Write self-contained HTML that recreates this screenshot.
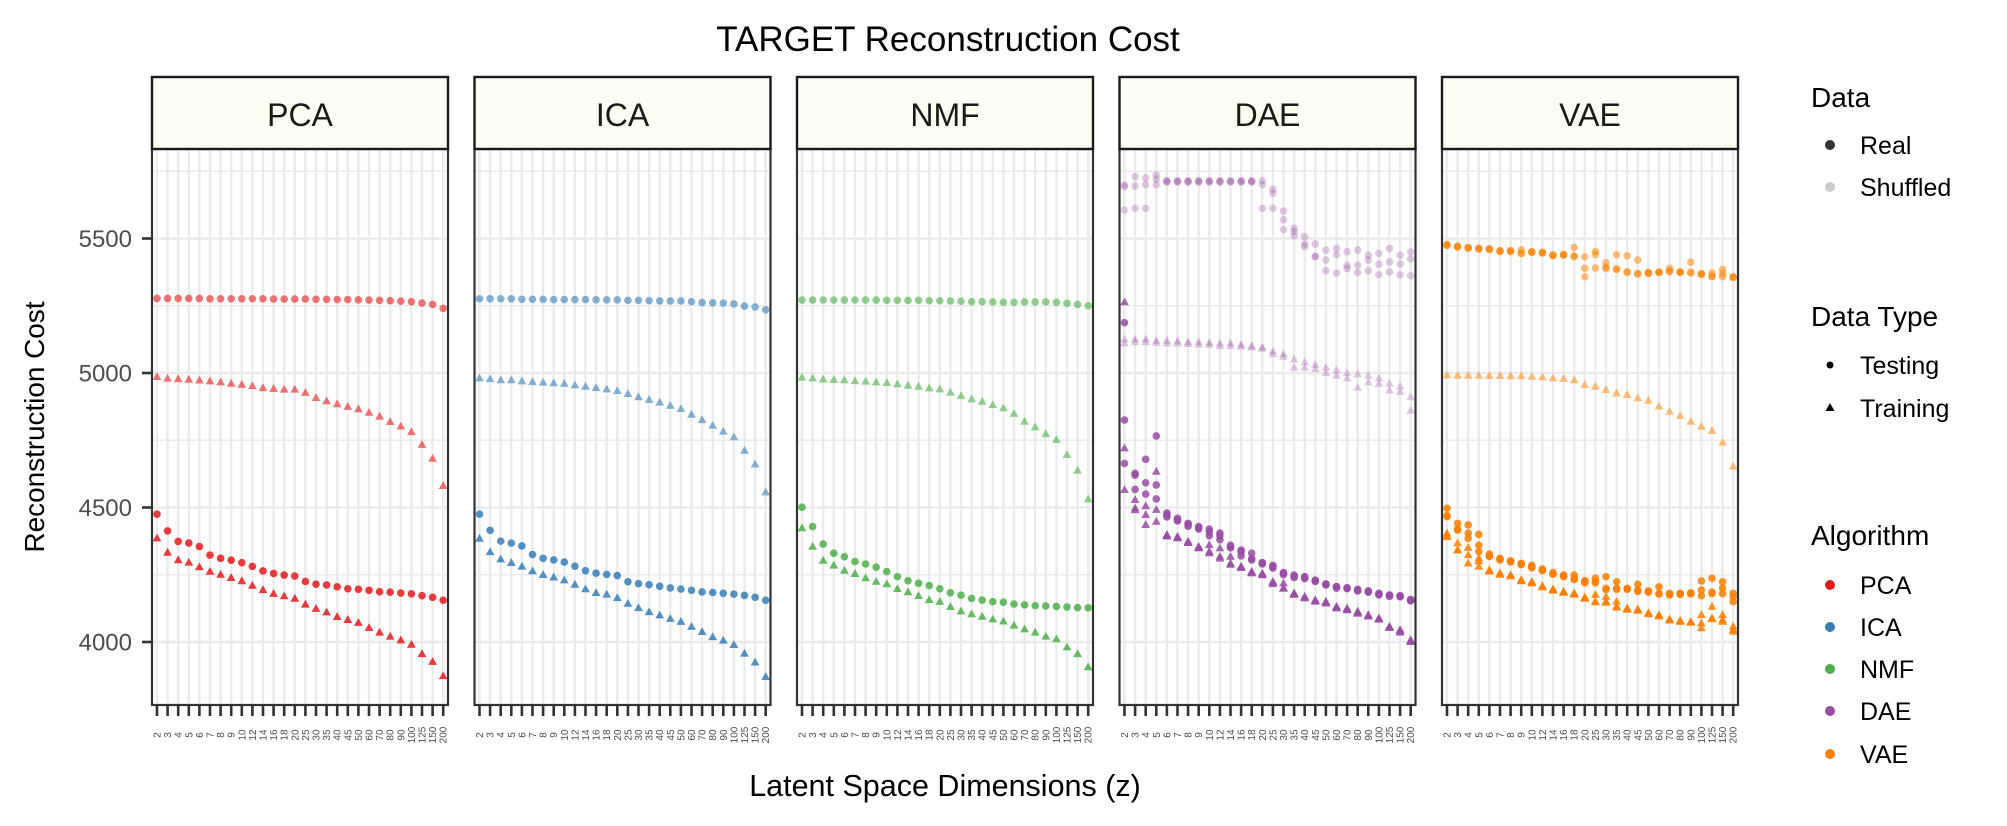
<!DOCTYPE html>
<html><head><meta charset="utf-8"><style>
html,body{margin:0;padding:0;background:#fff;}
svg{display:block;font-family:"Liberation Sans",Arial,sans-serif;}
</style></head><body>
<svg id="chart" width="2007" height="826" viewBox="0 0 2007 826" xmlns="http://www.w3.org/2000/svg">
<rect width="2007" height="826" fill="#fff"/>
<text x="948" y="51" font-size="35" text-anchor="middle" fill="#000">TARGET Reconstruction Cost</text>
<text transform="translate(44,427) rotate(-90)" font-size="28" text-anchor="middle" textLength="251" fill="#000">Reconstruction Cost</text>
<text x="945" y="796" font-size="30.5" text-anchor="middle" fill="#000">Latent Space Dimensions (z)</text>
<g id="panels"></g>
<g id="legend">
  <text x="1811" y="107" font-size="28" fill="#000">Data</text>
  <circle cx="1830" cy="145" r="5" fill="#333"/>
  <text x="1860" y="154" font-size="25" fill="#000">Real</text>
  <circle cx="1830" cy="187" r="5" fill="#ccc"/>
  <text x="1860" y="196" font-size="25" fill="#000">Shuffled</text>
  <text x="1811" y="326" font-size="28" fill="#000">Data Type</text>
  <circle cx="1830" cy="365" r="3.5" fill="#000"/>
  <text x="1860" y="374" font-size="25" fill="#000">Testing</text>
  <polygon points="1830,403 1834.5,411 1825.5,411" fill="#000"/>
  <text x="1860" y="417" font-size="25" fill="#000">Training</text>
  <text x="1811" y="545" font-size="28" fill="#000">Algorithm</text>
  <circle cx="1830" cy="585" r="5" fill="#E41A1C"/>
  <text x="1860" y="594" font-size="25" fill="#000">PCA</text>
  <circle cx="1830" cy="627" r="5" fill="#377EB8"/>
  <text x="1860" y="636" font-size="25" fill="#000">ICA</text>
  <circle cx="1830" cy="669" r="5" fill="#4DAF4A"/>
  <text x="1860" y="678" font-size="25" fill="#000">NMF</text>
  <circle cx="1830" cy="711" r="5" fill="#984EA3"/>
  <text x="1860" y="720" font-size="25" fill="#000">DAE</text>
  <circle cx="1830" cy="754" r="5" fill="#FF7F00"/>
  <text x="1860" y="763" font-size="25" fill="#000">VAE</text>
</g>
</svg>
<script>
const categories = ["2","3","4","5","6","7","8","9","10","12","14","16","18","20","25","30","35","40","45","50","60","70","80","90","100","125","150","200"];
const panelNames = ["PCA","ICA","NMF","DAE","VAE"];
const panelColors = ["#E41A1C","#377EB8","#4DAF4A","#984EA3","#FF7F00"];
const yTicks = [4000,4500,5000,5500];
const yMinor = [3750,4250,4750,5250,5750];

const pcaTestReal = [4475,4413,4374,4368,4355,4323,4311,4304,4295,4281,4264,4255,4249,4245,4225,4215,4212,4205,4198,4196,4192,4187,4185,4182,4179,4172,4166,4155];
const pcaTrainReal = [4385,4332,4304,4295,4278,4261,4250,4238,4226,4209,4193,4179,4170,4161,4139,4123,4110,4093,4082,4071,4052,4035,4020,4006,3990,3955,3926,3873];
const pcaTestShuf = [5277,5277,5277,5277,5277,5276,5276,5276,5276,5276,5276,5275,5275,5275,5275,5274,5274,5273,5273,5272,5271,5270,5269,5267,5265,5260,5255,5240];
const pcaTrainShuf = [4985,4979,4977,4975,4972,4969,4965,4960,4956,4951,4944,4941,4938,4938,4926,4907,4895,4884,4874,4865,4852,4838,4818,4801,4780,4733,4681,4580];

const icaTestReal = [4475,4415,4375,4368,4357,4325,4311,4305,4297,4282,4265,4256,4251,4247,4224,4217,4213,4207,4201,4197,4192,4186,4184,4181,4178,4173,4166,4155];
const icaTrainReal = [4384,4334,4307,4294,4280,4263,4249,4240,4229,4213,4196,4182,4176,4163,4142,4126,4111,4099,4086,4075,4056,4037,4018,4005,3989,3957,3924,3870];
const icaTestShuf = [5276,5276,5276,5276,5274,5274,5274,5273,5273,5273,5273,5272,5272,5272,5270,5270,5269,5268,5268,5268,5265,5262,5261,5260,5257,5249,5245,5235];
const icaTrainShuf = [4980,4977,4973,4973,4969,4966,4964,4962,4960,4954,4949,4944,4939,4933,4922,4910,4900,4890,4878,4866,4845,4825,4804,4782,4761,4711,4660,4556];

const nmfTestReal = [4501,4429,4364,4330,4317,4299,4290,4278,4262,4243,4228,4218,4210,4198,4183,4174,4162,4156,4150,4148,4141,4138,4135,4134,4132,4130,4128,4127];
const nmfTrainReal = [4423,4354,4302,4284,4265,4253,4237,4224,4215,4197,4185,4171,4156,4149,4130,4114,4103,4094,4084,4076,4061,4047,4035,4020,4010,3980,3955,3906];
const nmfTestShuf = [5271,5271,5271,5271,5271,5271,5271,5271,5270,5270,5270,5270,5269,5269,5268,5267,5265,5265,5264,5263,5263,5264,5264,5264,5263,5259,5255,5250];
const nmfTrainShuf = [4983,4980,4976,4974,4973,4970,4968,4965,4963,4958,4953,4949,4943,4939,4927,4915,4902,4893,4881,4869,4848,4819,4798,4773,4751,4695,4637,4530];

const daeTestReal1 = [4825,4627,4679,4766,4472,4460,4441,4429,4420,4405,4354,4342,4330,4295,4280,4255,4249,4243,4230,4216,4206,4200,4196,4187,4181,4175,4172,4156];
const daeTestReal2 = [4664,4620,4592,4584,4480,4455,4438,4425,4410,4380,4360,4335,4305,4290,4285,4250,4245,4240,4228,4212,4200,4202,4190,4190,4175,4172,4170,4153];
const daeTestReal3 = [5187,4567,4550,4532,4465,4450,4430,4420,4395,4395,4350,4320,4310,4295,4275,4258,4240,4236,4225,4215,4205,4198,4192,4185,4178,4170,4168,4158];
const daeTrainReal1 = [5263,4528,4505,4633,4398,4391,4373,4354,4360,4348,4317,4280,4261,4255,4224,4218,4181,4168,4156,4150,4131,4125,4113,4100,4088,4057,4045,4007];
const daeTrainReal2 = [4720,4497,4472,4491,4395,4388,4370,4350,4336,4317,4292,4278,4258,4250,4220,4200,4178,4165,4152,4146,4128,4120,4108,4097,4085,4055,4040,4003];
const daeTrainReal3 = [4565,4490,4435,4447,4392,4385,4368,4348,4330,4310,4287,4275,4255,4248,4215,4198,4175,4162,4150,4143,4125,4118,4105,4095,4083,4052,4035,4000];
const daeTestShuf1 = [5699,5730,5725,5736,5715,5715,5715,5715,5715,5715,5715,5715,5715,5715,5683,5602,5538,5507,5480,5457,5463,5451,5457,5438,5445,5463,5438,5450];
const daeTestShuf2 = [5692,5695,5700,5720,5712,5712,5712,5712,5712,5712,5712,5712,5712,5700,5668,5570,5526,5480,5433,5420,5440,5400,5401,5420,5404,5413,5406,5424];
const daeTestShuf3 = [5606,5612,5612,5700,5710,5710,5710,5710,5710,5710,5710,5710,5710,5612,5612,5533,5510,5470,5433,5380,5371,5388,5374,5380,5365,5375,5365,5362];
const daeTrainShuf1 = [5125,5125,5125,5120,5120,5118,5115,5115,5112,5110,5110,5105,5100,5095,5080,5070,5050,5040,5030,5020,5010,5000,4995,4990,4980,4960,4950,4910];
const daeTrainShuf2 = [5110,5115,5115,5112,5110,5110,5108,5105,5105,5100,5100,5098,5095,5090,5070,5060,5020,5020,5015,5000,4990,4980,4945,4965,4960,4935,4930,4860];

const vaeTestReal1 = [4497,4441,4435,4400,4327,4311,4302,4292,4285,4271,4258,4249,4249,4228,4237,4243,4224,4199,4215,4190,4205,4181,4181,4183,4227,4237,4224,4181];
const vaeTestReal2 = [4466,4416,4405,4360,4320,4308,4300,4290,4280,4268,4255,4245,4236,4225,4225,4199,4199,4198,4193,4187,4180,4178,4180,4181,4193,4185,4200,4168];
const vaeTestReal3 = [4470,4420,4385,4336,4318,4305,4298,4288,4276,4265,4252,4243,4232,4220,4220,4195,4196,4196,4188,4185,4178,4175,4177,4179,4172,4180,4180,4150];
const vaeTrainReal1 = [4404,4367,4350,4311,4267,4255,4249,4230,4224,4208,4196,4187,4181,4166,4175,4168,4150,4125,4121,4107,4100,4084,4079,4075,4100,4131,4100,4057];
const vaeTrainReal2 = [4395,4342,4323,4300,4264,4252,4246,4228,4220,4205,4193,4185,4178,4163,4150,4150,4131,4122,4118,4105,4097,4082,4077,4073,4069,4088,4081,4045];
const vaeTrainReal3 = [4390,4340,4292,4280,4262,4250,4244,4226,4218,4203,4191,4183,4176,4161,4148,4146,4128,4120,4116,4103,4095,4080,4075,4072,4051,4085,4075,4038];
const vaeTestShuf1 = [5478,5472,5467,5464,5462,5455,5455,5458,5451,5449,5439,5441,5467,5432,5452,5410,5440,5435,5420,5375,5375,5376,5376,5412,5370,5372,5385,5358];
const vaeTestShuf2 = [5475,5470,5465,5462,5460,5453,5453,5446,5449,5447,5437,5439,5435,5389,5440,5394,5387,5376,5370,5369,5375,5389,5375,5375,5368,5358,5370,5356];
const vaeTestShuf3 = [5474,5468,5464,5461,5459,5452,5452,5444,5448,5446,5436,5438,5433,5358,5390,5388,5385,5374,5368,5371,5374,5380,5374,5372,5366,5360,5358,5355];
const vaeTrainShuf = [4991,4990,4990,4990,4989,4989,4988,4988,4986,4984,4980,4978,4973,4955,4949,4937,4924,4918,4906,4897,4875,4856,4840,4819,4800,4785,4741,4652];

const panelSeries = [
  {shufOp:0.6, shufTest:[pcaTestShuf], shufTrain:[pcaTrainShuf], realTest:[pcaTestReal], realTrain:[pcaTrainReal]},
  {shufOp:0.6, shufTest:[icaTestShuf], shufTrain:[icaTrainShuf], realTest:[icaTestReal], realTrain:[icaTrainReal]},
  {shufOp:0.6, shufTest:[nmfTestShuf], shufTrain:[nmfTrainShuf], realTest:[nmfTestReal], realTrain:[nmfTrainReal]},
  {shufOp:0.3, shufTest:[daeTestShuf1,daeTestShuf2,daeTestShuf3], shufTrain:[daeTrainShuf1,daeTrainShuf2], realTest:[daeTestReal1,daeTestReal2,daeTestReal3], realTrain:[daeTrainReal1,daeTrainReal2,daeTrainReal3]},
  {shufOp:0.5, shufTest:[vaeTestShuf1,vaeTestShuf2,vaeTestShuf3], shufTrain:[vaeTrainShuf], realTest:[vaeTestReal1,vaeTestReal2,vaeTestReal3], realTrain:[vaeTrainReal1,vaeTrainReal2,vaeTrainReal3]}
];

const NS = "http://www.w3.org/2000/svg";
const PANEL_TOP = 149, PANEL_BOTTOM = 705, PANEL_W = 296, STRIP_TOP = 77;
function panelLeft(p){ return 152 + p*322.5; }
function xScale(p, i){ return panelLeft(p) + 5 + i*10.6; }
function yScale(v){ return 373 - (v - 5000)*0.269; }
function mk(tag, attrs, parent){
  const e = document.createElementNS(NS, tag);
  for (const k in attrs) e.setAttribute(k, attrs[k]);
  parent.appendChild(e);
  return e;
}
const root = document.getElementById("panels");

panelNames.forEach((name, p) => {
  const L = panelLeft(p);
  const g = mk("g", {}, root);
  
  
  const bg = mk("rect", {x:L, y:PANEL_TOP, width:PANEL_W, height:PANEL_BOTTOM-PANEL_TOP, fill:"#fff"}, g);
  
  
  yMinor.forEach(v => {
    const yy = yScale(v);
    if (yy > PANEL_TOP && yy < PANEL_BOTTOM) {
      const ln = mk("line", {x1:L, x2:L+PANEL_W, y1:yy, y2:yy, stroke:"#ebebeb", "stroke-width":1.6}, g);
      
      
    }
  });
  yTicks.forEach(v => {
    const yy = yScale(v);
    const ln = mk("line", {x1:L, x2:L+PANEL_W, y1:yy, y2:yy, stroke:"#ebebeb", "stroke-width":2.4}, g);
    
    
  });
  categories.forEach((c, i) => {
    const xx = xScale(p, i);
    const ln = mk("line", {x1:xx, x2:xx, y1:PANEL_TOP, y2:PANEL_BOTTOM, stroke:"#ebebeb", "stroke-width":2.4}, g);
    
    
    const tk = mk("line", {x1:xx, x2:xx, y1:PANEL_BOTTOM, y2:PANEL_BOTTOM+11, stroke:"#333", "stroke-width":2.6}, g);
    
    
    const t = mk("text", {transform:"translate(" + (xx+3.5) + ",735) rotate(-90)", "font-size":10, "text-anchor":"middle", fill:"#4d4d4d"}, g);
    t.textContent = c;
    
    
  });
  const s = panelSeries[p];
  const col = panelColors[p];
  function drawCircles(arrs, op, label){
    arrs.forEach(arr => arr.forEach((v, i) => {
      const c = mk("circle", {cx:xScale(p,i), cy:yScale(v), r:3.8, fill:col, "fill-opacity":op}, g);
      
      
    }));
  }
  function drawTris(arrs, op, label){
    arrs.forEach(arr => arr.forEach((v, i) => {
      const x = xScale(p,i), y = yScale(v);
      const t = mk("polygon", {points:(x)+","+(y-4.8)+" "+(x+4.4)+","+(y+3)+" "+(x-4.4)+","+(y+3), fill:col, "fill-opacity":op}, g);
      
      
    }));
  }
  drawCircles(s.shufTest, s.shufOp, 'point-shuffled-testing');
  drawTris(s.shufTrain, s.shufOp, 'point-shuffled-training');
  drawCircles(s.realTest, 0.85, 'point-real-testing');
  drawTris(s.realTrain, 0.85, 'point-real-training');
  const border = mk("rect", {x:L, y:PANEL_TOP, width:PANEL_W, height:PANEL_BOTTOM-PANEL_TOP, fill:"none", stroke:"#333", "stroke-width":2.2}, g);
  
  
  const strip = mk("rect", {x:L, y:STRIP_TOP, width:PANEL_W, height:PANEL_TOP-STRIP_TOP, fill:"#fcfdf3", stroke:"#1a1a1a", "stroke-width":2.4}, g);
  
  
  const st = mk("text", {x:L+PANEL_W/2, y:126, "font-size":32, "text-anchor":"middle", fill:"#1a1a1a"}, g);
  st.textContent = name;
  
  
});

const yAxis = mk("g", {}, root);


yTicks.forEach(v => {
  const yy = yScale(v);
  const tk = mk("line", {x1:142, x2:152, y1:yy, y2:yy, stroke:"#333", "stroke-width":2.6}, yAxis);
  
  
  const t = mk("text", {x:132, y:yy+8.5, "font-size":24, "text-anchor":"end", fill:"#4d4d4d"}, yAxis);
  t.textContent = v;
  
  
});
</script>
</body></html>
